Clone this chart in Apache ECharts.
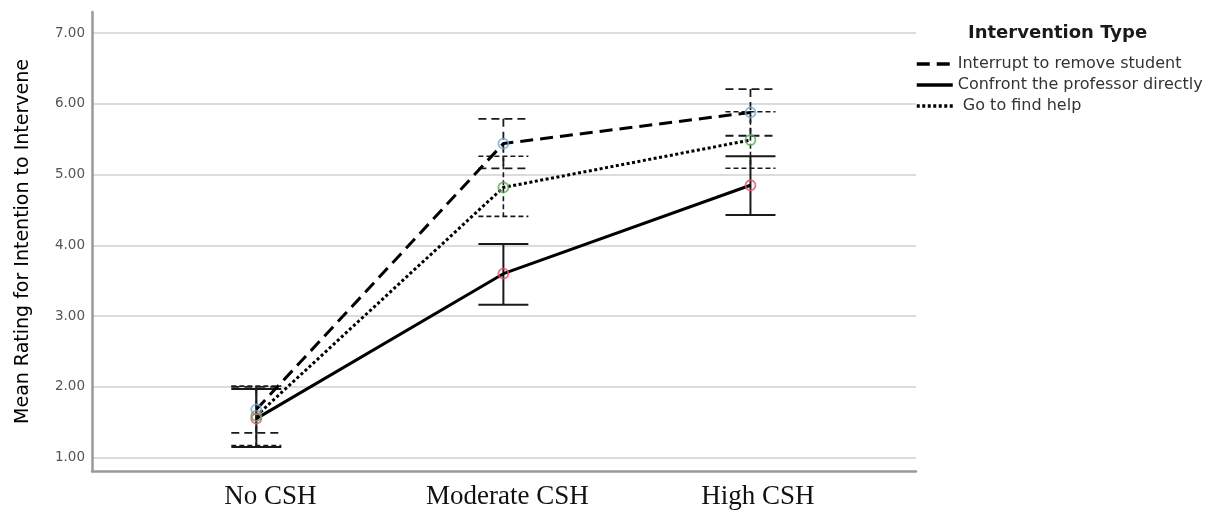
<!DOCTYPE html>
<html>
<head>
<meta charset="utf-8">
<script src="https://cdn.jsdelivr.net/npm/echarts@6/dist/echarts.min.js"></script>
<style>
html,body{margin:0;padding:0;background:#fff;}
#chart{width:1220px;height:514px;}
</style>
</head>
<body>
<div id="chart"></div>
<script>
// ---- data ----
const categories = ['No CSH', 'Moderate CSH', 'High CSH'];
const seriesNames = ['Interrupt to remove student', 'Confront the professor directly', ' Go to find help'];
const interruptMean = [1.68, 5.44, 5.88];
const interruptLow  = [1.35, 5.09, 5.55];
const interruptHigh = [2.00, 5.79, 6.21];
const confrontMean = [1.55, 3.60, 4.85];
const confrontLow  = [1.15, 3.16, 4.43];
const confrontHigh = [1.97, 4.02, 5.26];
const helpMean = [1.59, 4.82, 5.49];
const helpLow  = [1.17, 4.41, 5.09];
const helpHigh = [2.01, 5.26, 5.89];
const yTicks = [1, 2, 3, 4, 5, 6, 7];

// ---- build ----
const xs = categories.map((c, i) => i + 1);
const pts = (arr) => arr.map((v, i) => [xs[i], v]);
const bars = (lo, hi) => lo.map((v, i) => [xs[i], v, hi[i]]);

function errRender(dash, width) {
  return function (params, api) {
    const x = api.value(0), lo = api.value(1), hi = api.value(2);
    const a = api.coord([x, hi]), b = api.coord([x, lo]);
    const hw = 25;
    const st = { stroke: '#1a1a1a', lineWidth: width, lineDash: dash, fill: null };
    return {
      type: 'group',
      children: [
        { type: 'line', shape: { x1: a[0], y1: a[1], x2: b[0], y2: b[1] }, style: st },
        { type: 'line', shape: { x1: a[0] - hw, y1: a[1], x2: a[0] + hw, y2: a[1] }, style: st },
        { type: 'line', shape: { x1: b[0] - hw, y1: b[1], x2: b[0] + hw, y2: b[1] }, style: st }
      ]
    };
  };
}

const lineStyles = [[13, 7], 'solid', [3, 2.5]];
const means = [interruptMean, confrontMean, helpMean];
const lows = [interruptLow, confrontLow, helpLow];
const highs = [interruptHigh, confrontHigh, helpHigh];
const errDash = [[8, 5], null, [5, 3]];
const errWidth = [1.8, 2, 1.6];
const markerColors = ['#7aa6dc', '#e2506e', '#5aaa5a'];

const series = [];
for (let k = 0; k < 3; k++) {
  series.push({
    type: 'custom', name: 'err' + k, renderItem: errRender(errDash[k], errWidth[k]),
    data: bars(lows[k], highs[k]), encode: { x: 0, y: [1, 2] }, z: 1, silent: true
  });
}
for (let k = 0; k < 3; k++) {
  series.push({
    type: 'line', name: seriesNames[k], data: pts(means[k]), symbol: 'none',
    lineStyle: { color: '#000', width: 3, type: lineStyles[k] },
    itemStyle: { color: '#000' }, z: 2, silent: true
  });
}
for (let k = 0; k < 3; k++) {
  series.push({
    type: 'scatter', name: 'mk' + k, data: pts(means[k]), symbol: 'circle', symbolSize: 10,
    itemStyle: { color: 'rgba(255,255,255,0)', borderColor: markerColors[k], borderWidth: 1.8 },
    z: 3, silent: true
  });
}

const chart = echarts.init(document.getElementById('chart'), null, { renderer: 'canvas' });
chart.setOption({
  animation: false,
  backgroundColor: '#fff',
  title: {
    text: 'Intervention Type', left: 968, top: 24, padding: 0,
    textStyle: { fontFamily: 'DejaVu Sans', fontWeight: 'bold', fontSize: 18, color: '#1a1a1a' }
  },
  legend: {
    data: seriesNames, orient: 'vertical', left: 915, top: 56, padding: 0,
    itemWidth: 36, itemHeight: 14, itemGap: 5,
    itemStyle: { opacity: 0 },
    lineStyle: { width: 3.5, color: '#000' },
    textStyle: { fontFamily: 'DejaVu Sans', fontSize: 16, color: '#333' }
  },
  grid: { left: 92, right: 304, top: 12, bottom: 43, containLabel: false },
  xAxis: {
    type: 'value', min: 0.335, max: 3.67,
    axisLine: { show: true, lineStyle: { color: '#999', width: 2.5 } },
    axisTick: { show: false },
    splitLine: { show: false },
    axisLabel: {
      customValues: [1.057, 2.016, 3.03],
      formatter: v => categories[Math.round(v) - 1],
      fontFamily: 'Liberation Serif', fontSize: 27, color: '#111', margin: 12
    }
  },
  yAxis: {
    type: 'value', min: 0.81, max: 7.30,
    name: 'Mean Rating for Intention to Intervene', nameLocation: 'middle', nameGap: 59,
    nameTextStyle: { fontFamily: 'DejaVu Sans', fontSize: 19, color: '#000' },
    axisLine: { show: true, lineStyle: { color: '#999', width: 2.5 } },
    axisTick: { show: false, customValues: yTicks },
    splitLine: { show: true, lineStyle: { color: '#dcdcdc', width: 1.8 } },
    axisLabel: {
      customValues: yTicks, formatter: v => v.toFixed(2),
      fontFamily: 'DejaVu Sans', fontSize: 13.5, color: '#555', margin: 7
    }
  },
  series: series
});
</script>
</body>
</html>
